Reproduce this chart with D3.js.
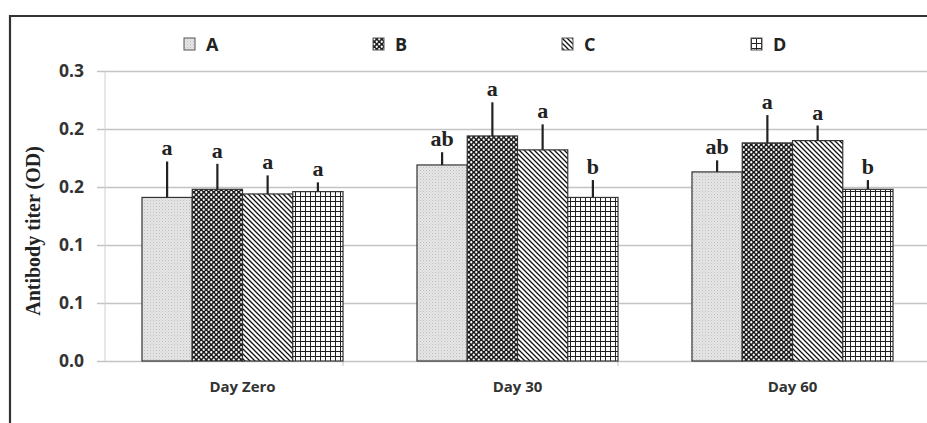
<!DOCTYPE html>
<html>
<head>
<meta charset="utf-8">
<script src="https://cdn.jsdelivr.net/npm/d3@7"></script>
<style>
  body { margin: 0; background: #fff; }
  svg { display: block; }
</style>
</head>
<body>
<script>
// chart data
var days = ["Day Zero", "Day 30", "Day 60"];
var groups = ["A", "B", "C", "D"];
var meanA = [0.141, 0.169, 0.163];
var meanB = [0.148, 0.194, 0.188];
var meanC = [0.144, 0.182, 0.190];
var meanD = [0.146, 0.141, 0.148];
var errA = [0.031, 0.011, 0.010];
var errB = [0.022, 0.029, 0.024];
var errC = [0.016, 0.022, 0.013];
var errD = [0.008, 0.015, 0.008];
var letA = ["a", "ab", "ab"];
var letB = ["a", "a", "a"];
var letC = ["a", "a", "a"];
var letD = ["a", "b", "b"];
var yTicks = [0, 0.05, 0.10, 0.15, 0.20, 0.25];

var W = 927, H = 423,
    margin = {top: 71, right: 0, bottom: 62, left: 105},
    plotW = 930 - margin.left,
    plotH = 361 - margin.top;

var means = [meanA, meanB, meanC, meanD],
    errs = [errA, errB, errC, errD],
    lets = [letA, letB, letC, letD];

var rows = [];
days.forEach(function (d, i) {
    groups.forEach(function (g, j) {
        rows.push({day: d, grp: g, v: means[j][i], e: errs[j][i], lab: lets[j][i]});
    });
});

var svg = d3.select("body").append("svg")
    .attr("width", W)
    .attr("height", H);

// fill patterns
var defs = svg.append("defs");

var pA = defs.append("pattern").attr("id", "pA")
    .attr("width", 3).attr("height", 3).attr("patternUnits", "userSpaceOnUse");
pA.append("rect").attr("width", 3).attr("height", 3).attr("fill", "#e6e6e6");
pA.append("rect").attr("x", 0).attr("y", 0).attr("width", 1).attr("height", 1).attr("fill", "#bdbdbd");
pA.append("rect").attr("x", 1.5).attr("y", 1.5).attr("width", 1).attr("height", 1).attr("fill", "#cccccc");

var pB = defs.append("pattern").attr("id", "pB")
    .attr("width", 5).attr("height", 5).attr("patternUnits", "userSpaceOnUse");
pB.append("rect").attr("width", 5).attr("height", 5).attr("fill", "#1c1c1c");
pB.append("circle").attr("cx", 1.25).attr("cy", 1.25).attr("r", 1.15).attr("fill", "#fff");
pB.append("circle").attr("cx", 3.75).attr("cy", 3.75).attr("r", 1.15).attr("fill", "#fff");

var pC = defs.append("pattern").attr("id", "pC")
    .attr("width", 5).attr("height", 5).attr("patternUnits", "userSpaceOnUse");
pC.append("rect").attr("width", 5).attr("height", 5).attr("fill", "#fff");
pC.append("path").attr("d", "M-1,-1 L6,6 M-3,2 L1,6 M4,-1 L6,1")
    .attr("stroke", "#111").attr("stroke-width", 1.3);

var pD = defs.append("pattern").attr("id", "pD")
    .attr("width", 5).attr("height", 5).attr("patternUnits", "userSpaceOnUse");
pD.append("rect").attr("width", 5).attr("height", 5).attr("fill", "#fff");
pD.append("path").attr("d", "M0,0.5 L5,0.5 M0.5,0 L0.5,5")
    .attr("stroke", "#222").attr("stroke-width", 1);

var fills = {A: "url(#pA)", B: "url(#pB)", C: "url(#pC)", D: "url(#pD)"};

// outer frame (top and left only, rest is cut off)
svg.append("path")
    .attr("d", "M10," + H + " L10,16 L" + W + ",16")
    .attr("fill", "none")
    .attr("stroke", "#333")
    .attr("stroke-width", 2.2);

var g = svg.append("g")
    .attr("transform", "translate(" + margin.left + "," + margin.top + ")");

var x0 = d3.scaleBand().domain(days).range([0, plotW])
    .paddingInner(0.269).paddingOuter(0.1345);
var x1 = d3.scaleBand().domain(groups).range([0, x0.bandwidth()]);
var y = d3.scaleLinear().domain([0, 0.25]).range([plotH, 0]);

// excel-style rounding, half goes up
function fmt(d) { return (Math.round(d * 10 + 1e-9) / 10).toFixed(1); }

// gridlines + y labels
var yAxis = d3.axisLeft(y)
    .tickValues(yTicks)
    .tickSize(-(W - margin.left))
    .tickPadding(21)
    .tickFormat(fmt);

var ya = g.append("g").attr("class", "y axis").call(yAxis);
ya.select(".domain").remove();
ya.selectAll(".tick line")
    .attr("x1", -8)
    .attr("stroke", "#c4c4c4")
    .attr("stroke-width", 1.3);
ya.selectAll(".tick text")
    .attr("font-family", "'Open Sans', sans-serif")
    .attr("font-weight", "bold")
    .attr("font-size", 17.5)
    .attr("fill", "#333");

g.append("line")
    .attr("x1", 0).attr("x2", 0)
    .attr("y1", 0).attr("y2", plotH)
    .attr("stroke", "#d0d0d0");

// category axis
var xAxis = d3.axisBottom(x0).tickSize(0).tickPadding(20);
var xa = g.append("g").attr("class", "x axis")
    .attr("transform", "translate(0," + plotH + ")")
    .call(xAxis);
xa.select(".domain").remove();
xa.selectAll(".tick text")
    .attr("font-family", "'Open Sans', sans-serif")
    .attr("font-weight", "bold")
    .attr("font-size", 15)
    .attr("fill", "#333");

// small tick marks between categories
g.selectAll(".sep")
    .data(days.slice(1))
    .enter().append("line")
    .attr("class", "sep")
    .attr("x1", function (d) { return x0(d) - x0.step() * 0.269; })
    .attr("x2", function (d) { return x0(d) - x0.step() * 0.269; })
    .attr("y1", plotH).attr("y2", plotH + 5)
    .attr("stroke", "#c4c4c4");

// bars
g.selectAll(".bar")
    .data(rows)
    .enter().append("rect")
    .attr("class", "bar")
    .attr("x", function (d) { return x0(d.day) + x1(d.grp); })
    .attr("y", function (d) { return y(d.v); })
    .attr("width", x1.bandwidth())
    .attr("height", function (d) { return plotH - y(d.v); })
    .attr("fill", function (d) { return fills[d.grp]; })
    .attr("stroke", "#333")
    .attr("stroke-width", 1.2);

// error bars
g.selectAll(".err")
    .data(rows)
    .enter().append("line")
    .attr("class", "err")
    .attr("x1", function (d) { return x0(d.day) + x1(d.grp) + x1.bandwidth() / 2; })
    .attr("x2", function (d) { return x0(d.day) + x1(d.grp) + x1.bandwidth() / 2; })
    .attr("y1", function (d) { return y(d.v); })
    .attr("y2", function (d) { return y(d.v + d.e); })
    .attr("stroke", "#222")
    .attr("stroke-width", 2.2);

// significance letters
g.selectAll(".lab")
    .data(rows)
    .enter().append("text")
    .attr("class", "lab")
    .attr("x", function (d) { return x0(d.day) + x1(d.grp) + x1.bandwidth() / 2; })
    .attr("y", function (d) { return y(d.v + d.e) - 6; })
    .attr("text-anchor", "middle")
    .attr("font-family", "'Liberation Serif', 'Times New Roman', serif")
    .attr("font-weight", "bold")
    .attr("font-size", 22)
    .attr("fill", "#222")
    .text(function (d) { return d.lab; });

// y title
svg.append("text")
    .attr("transform", "translate(40,231) rotate(-90)")
    .attr("text-anchor", "middle")
    .attr("font-family", "'Liberation Serif', 'Times New Roman', serif")
    .attr("font-weight", "bold")
    .attr("font-size", 20)
    .attr("fill", "#222")
    .text("Antibody titer (OD)");

// legend
var legX = d3.scalePoint().domain(groups).range([184, 751]);
var leg = svg.selectAll(".leg")
    .data(groups)
    .enter().append("g")
    .attr("class", "leg")
    .attr("transform", function (d) { return "translate(" + legX(d) + ",38)"; });
leg.append("rect")
    .attr("width", 11).attr("height", 12)
    .attr("fill", function (d) { return fills[d]; })
    .attr("stroke", "#555")
    .attr("stroke-width", 1);
leg.append("text")
    .attr("x", 22).attr("y", 12.5)
    .attr("font-family", "'Open Sans', sans-serif")
    .attr("font-weight", "bold")
    .attr("font-size", 18)
    .attr("fill", "#222")
    .text(function (d) { return d; });
</script>
</body>
</html>
